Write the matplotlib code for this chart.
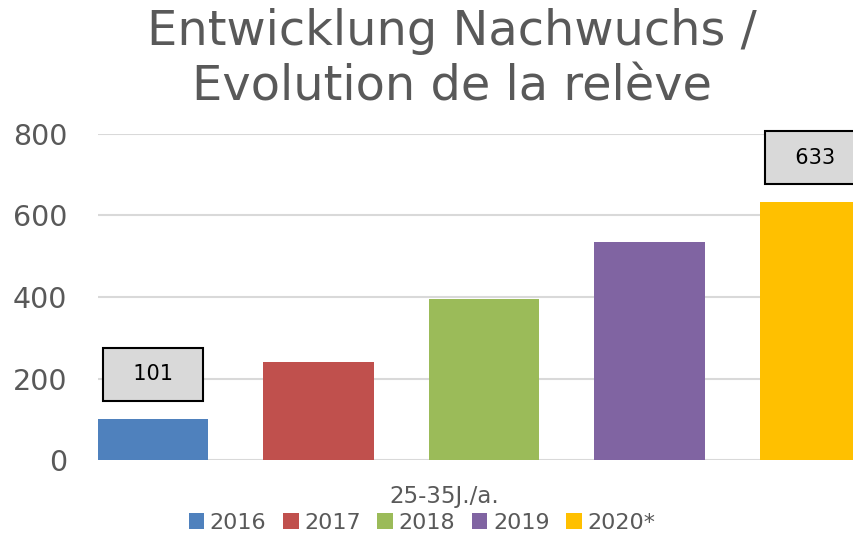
import matplotlib.pyplot as plt
import numpy as np

plt.rcParams['font.family'] = ['DejaVu Sans']

years = ['2016', '2017', '2018', '2019', '2020*']
values = [101, 240, 395, 535, 633]
labelled = ['2016', '2020*']
colors = ['#4F81BD', '#C0504D', '#9BBB59', '#8064A2', '#FFC000']
yticks = [0, 200, 400, 600, 800]
category = '25-35J./a.'
title = 'Entwicklung Nachwuchs /\nEvolution de la relève'

grey = '#595959'
fig = plt.figure(figsize=(8.54, 5.36), dpi=100)
# plot area runs past the right edge like the cropped original
ax = fig.add_axes([98/854, 1-460/536, 772/854, 326/536])

x = np.arange(len(years))
w = 0.665
bars = []
for i, (yr, v, c) in enumerate(zip(years, values, colors)):
    b = ax.bar(x[i], v, width=w, color=c, label=yr, zorder=3)
    bars.append(b)
    if yr in labelled:
        ax.annotate('  %d  ' % v, (x[i], v), xytext=(0, 32), textcoords='offset points',
                    ha='center', va='center', fontsize=15, color='black',
                    bbox=dict(boxstyle='square,pad=0.8', fc='#D9D9D9', ec='black', lw=1.5),
                    zorder=5)

ax.set_xlim(-w/2, len(years) - 1 + w/2)
ax.set_ylim(0, 800)
ax.set_yticks(yticks)
ax.set_xticks([])
ax.grid(axis='y', color='#D9D9D9', lw=1.5, zorder=0)
for s in ax.spines.values():
    s.set_visible(False)
ax.tick_params(axis='y', length=0, pad=22, labelsize=20.5, labelcolor=grey)

fig.text(452/854, 1-59/536, title, ha='center', va='center', fontsize=34.5,
         color=grey, linespacing=1.22)
fig.text(444/854, 1-496/536, category, ha='center', va='center', fontsize=16.5, color=grey)
fig.legend(handles=bars, loc='center', bbox_to_anchor=(422/854, 1-523/536), ncol=5,
           frameon=False, handlelength=0.7, handleheight=0.7, handletextpad=0.25,
           columnspacing=0.75, fontsize=16, labelcolor=grey, borderpad=0)

fig.savefig('out.png', dpi=100)
